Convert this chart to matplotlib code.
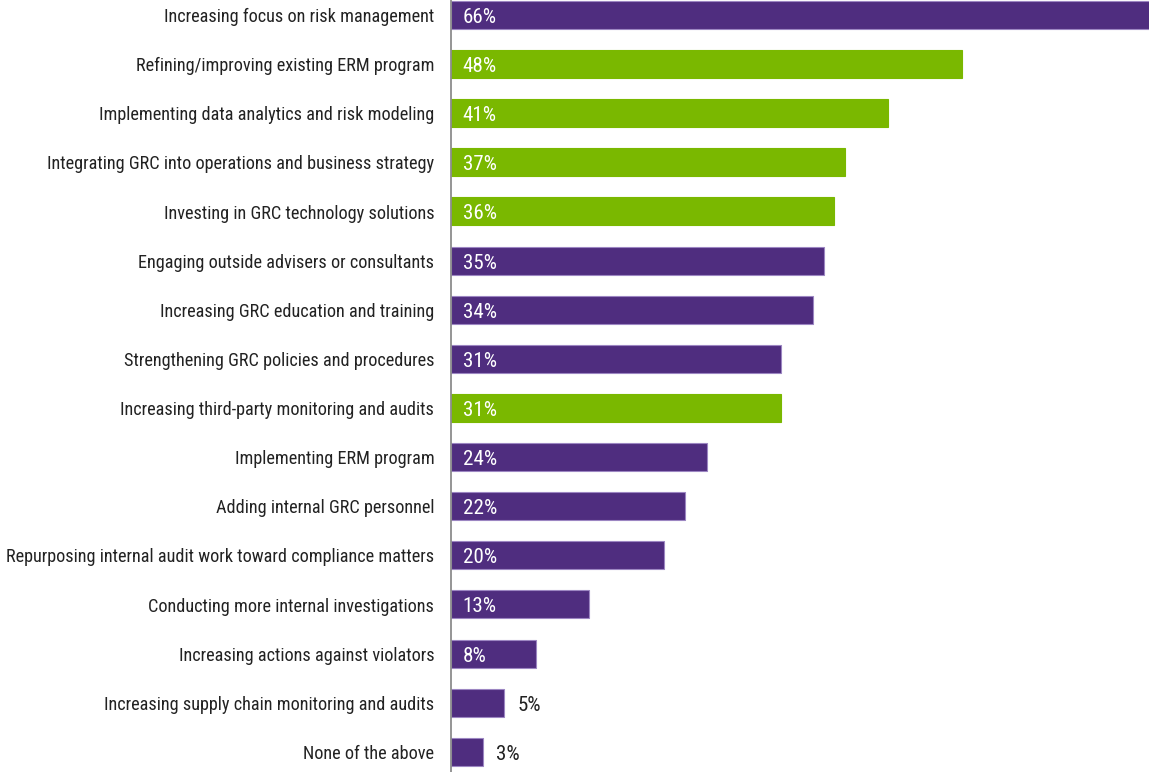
import matplotlib
matplotlib.use("Agg")
import matplotlib.pyplot as plt
from matplotlib import font_manager

categories = [
    "Increasing focus on risk management",
    "Refining/improving existing ERM program",
    "Implementing data analytics and risk modeling",
    "Integrating GRC into operations and business strategy",
    "Investing in GRC technology solutions",
    "Engaging outside advisers or consultants",
    "Increasing GRC education and training",
    "Strengthening GRC policies and procedures",
    "Increasing third-party monitoring and audits",
    "Implementing ERM program",
    "Adding internal GRC personnel",
    "Repurposing internal audit work toward compliance matters",
    "Conducting more internal investigations",
    "Increasing actions against violators",
    "Increasing supply chain monitoring and audits",
    "None of the above",
]
values = [66, 48, 41, 37, 36, 35, 34, 31, 31, 24, 22, 20, 13, 8, 5, 3]
highlight = [False, True, True, True, True, False, False, False, True,
             False, False, False, False, False, False, False]

PURPLE = "#4f2d7f"
PURPLE_EDGE = "#9c86c2"
GREEN = "#7ab800"

# Prefer a narrow sans face; fall back to regular Liberation Sans
installed = {f.name for f in font_manager.fontManager.ttflist}
narrow_candidates = ["Liberation Sans Narrow", "Arial Narrow", "Roboto Condensed",
                     "DejaVu Sans Condensed", "Open Sans Condensed"]
narrow = next((n for n in narrow_candidates if n in installed), None)
base_family = narrow if narrow else "Liberation Sans"
plt.rcParams["font.family"] = [base_family, "DejaVu Sans"]

fig = plt.figure(figsize=(11.49, 7.72), dpi=100)
ax = fig.add_axes([451 / 1149, 0, 698 / 1149, 1])

ypos = list(range(len(categories)))
colors = [GREEN if h else PURPLE for h in highlight]
edges = [GREEN if h else PURPLE_EDGE for h in highlight]
ax.barh(ypos, values, height=0.57, color=colors, edgecolor=edges,
        linewidth=0.8, zorder=2)

ax.set_xlim(0, 65.55)
ax.set_ylim(15.41, -0.305)
ax.set_yticks(ypos)
ax.set_yticklabels(categories, color="#222222")
ax.tick_params(axis="y", length=0, pad=12)
ax.set_xticks([])
for t in ax.get_yticklabels():
    t.set_verticalalignment("center")
    t.set_y(t.get_position()[1])

# Size category labels so the longest one spans the space left of the axis
renderer = fig.canvas.get_renderer()
label_size = 15 if narrow else 12
for t in ax.get_yticklabels():
    t.set_fontsize(label_size)
widest = max(t.get_window_extent(renderer).width for t in ax.get_yticklabels())
label_size = label_size * 430.0 / widest
for t in ax.get_yticklabels():
    t.set_fontsize(label_size)
value_size = label_size * 1.15

# Nudge category labels down slightly to sit on the bar centres
import matplotlib.transforms as mtransforms
shift = mtransforms.ScaledTranslation(0, -1.5 / 72, fig.dpi_scale_trans)
for t in ax.get_yticklabels():
    t.set_transform(t.get_transform() + shift)

for y, v in zip(ypos, values):
    label = f"{v}%"
    if v >= 8:
        ax.annotate(label, xy=(0, y), xytext=(8.5, -1.8), textcoords="offset points",
                    ha="left", va="center", color="white", fontsize=value_size)
    else:
        ax.annotate(label, xy=(v, y), xytext=(9.5, -1.8), textcoords="offset points",
                    ha="left", va="center", color="#222222", fontsize=value_size)

for side in ("top", "right", "bottom"):
    ax.spines[side].set_visible(False)
ax.spines["left"].set_color("#8c8c8c")
ax.spines["left"].set_linewidth(1.3)
ax.spines["left"].set_zorder(3)

fig.savefig("out.png", dpi=100)
